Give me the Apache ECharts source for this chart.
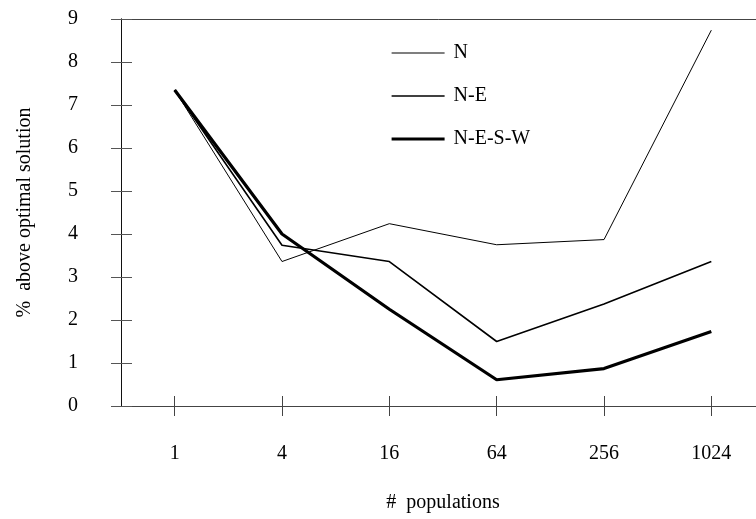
<!DOCTYPE html>
<html>
<head>
<meta charset="utf-8">
<script src="https://cdn.jsdelivr.net/npm/echarts@6/dist/echarts.min.js"></script>
<style>
  html, body { margin: 0; padding: 0; background: #fff; }
  #chart { width: 756px; height: 519px; }
</style>
</head>
<body>
<div id="chart"></div>
<script>
// data
var populations = ['1', '4', '16', '64', '256', '1024'];
var yTicks = [0, 1, 2, 3, 4, 5, 6, 7, 8, 9];
var seriesN = [7.35, 3.36, 4.24, 3.75, 3.87, 8.74];
var seriesNE = [7.35, 3.74, 3.36, 1.50, 2.37, 3.36];
var seriesNESW = [7.35, 4.00, 2.25, 0.61, 0.87, 1.73];

var font = 'Liberation Serif';

var myChart = echarts.init(document.getElementById('chart'));

var option = {
    backgroundColor: '#fff',
    animation: false,
    legend: {
        orient: 'vertical',
        left: 390,
        top: 43,
        padding: 0,
        itemWidth: 53,
        itemHeight: 14,
        itemGap: 23,
        itemStyle: { opacity: 0 },
        textStyle: { fontFamily: font, fontSize: 20, color: '#000', padding: [0, 0, 0, 4] },
        data: [
            { name: 'N', lineStyle: { width: 1.1 } },
            { name: 'N-E', lineStyle: { width: 1.7 } },
            { name: 'N-E-S-W', lineStyle: { width: 3.2 } }
        ]
    },
    grid: {
        left: 121,
        right: -9,
        top: 19,
        bottom: 113,
        outerBoundsMode: 'none'
    },
    xAxis: [{
        type: 'category',
        data: populations,
        boundaryGap: true,
        name: '#  populations',
        nameLocation: 'middle',
        nameGap: 87,
        nameTextStyle: { fontFamily: font, fontSize: 20, color: '#000' },
        axisLine: { show: true, lineStyle: { color: '#444', width: 1 } },
        axisTick: { show: true, alignWithLabel: true, length: 10, lineStyle: { color: '#444' } },
        axisLabel: { margin: 38, fontFamily: font, fontSize: 20, color: '#000' },
        splitLine: { show: false }
    }, {
        // inside half of the crossing ticks
        type: 'category',
        data: populations,
        position: 'bottom',
        boundaryGap: true,
        axisLine: { show: true, lineStyle: { color: '#444', width: 1 } },
        axisTick: { show: true, alignWithLabel: true, inside: true, length: 10, lineStyle: { color: '#444' } },
        axisLabel: { show: false },
        splitLine: { show: false }
    }, {
        // top frame line
        type: 'category',
        data: populations,
        position: 'top',
        axisLine: { show: true, lineStyle: { color: '#444', width: 1 } },
        axisTick: { show: false },
        axisLabel: { show: false },
        splitLine: { show: false }
    }],
    yAxis: [{
        type: 'value',
        min: yTicks[0],
        max: yTicks[yTicks.length - 1],
        interval: 1,
        name: '%  above optimal solution',
        nameLocation: 'middle',
        nameGap: 86,
        nameTextStyle: { fontFamily: font, fontSize: 20, color: '#000' },
        axisLine: { show: true, lineStyle: { color: '#111', width: 1 } },
        axisTick: { show: true, length: 10, lineStyle: { color: '#555' } },
        axisLabel: { margin: 43, fontFamily: font, fontSize: 20, color: '#000' },
        splitLine: { show: false }
    }, {
        type: 'value',
        min: yTicks[0],
        max: yTicks[yTicks.length - 1],
        interval: 1,
        position: 'left',
        axisLine: { show: true, lineStyle: { color: '#111', width: 1 } },
        axisTick: { show: true, inside: true, length: 11, lineStyle: { color: '#555' } },
        axisLabel: { show: false },
        splitLine: { show: false }
    }],
    series: [{
        name: 'N',
        type: 'line',
        data: seriesN,
        symbol: 'none',
        lineStyle: { color: '#000', width: 1 },
        itemStyle: { color: '#000' }
    }, {
        name: 'N-E',
        type: 'line',
        data: seriesNE,
        symbol: 'none',
        lineStyle: { color: '#000', width: 1.6 },
        itemStyle: { color: '#000' }
    }, {
        name: 'N-E-S-W',
        type: 'line',
        data: seriesNESW,
        symbol: 'none',
        lineStyle: { color: '#000', width: 3.2 },
        itemStyle: { color: '#000' }
    }]
};

myChart.setOption(option);
window.addEventListener('resize', function () {
    myChart.resize();
});
</script>
</body>
</html>
